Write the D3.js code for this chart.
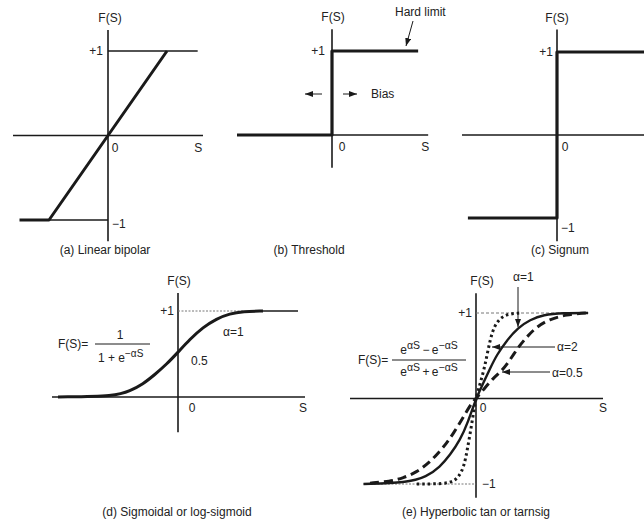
<!DOCTYPE html>
<html>
<head>
<meta charset="utf-8">
<script src="https://cdn.jsdelivr.net/npm/d3@7"></script>
<style>
  body { margin: 0; background: #fff; }
  svg text { font-family: "Liberation Sans", Arial, sans-serif; font-size: 12px; fill: #222; }
</style>
</head>
<body>
<svg id="chart" width="644" height="525"></svg>
<script>
// --- Data: curves as [S, F(S)] pairs ---
const captions = ["(a) Linear bipolar", "(b) Threshold", "(c) Signum",
                  "(d) Sigmoidal or log-sigmoid", "(e) Hyperbolic tan or tarnsig"];
const alphaLabels = ["α=1", "α=2", "α=0.5"];

const bipolarCurve = [[-1.5, -1], [-1, -1], [1, 1]];
const bipolarGuides = [[[0, 1], [1.52, 1]], [[-1, -1], [0, -1]]];

const thresholdCurve = [[-1.61, 0], [0, 0], [0, 1], [1.46, 1]];

const signumCurve = [[-1.51, -1], [0, -1], [0, 1], [1.5, 1]];

const sigmoidCurve = [[-4.8, 0], [-2.46, 0.01], [-1.93, 0.07], [-1.4, 0.15], [-0.93, 0.26],
  [-0.46, 0.38], [0, 0.52], [0.47, 0.67], [1.0, 0.81], [1.54, 0.91],
  [2.07, 0.97], [2.6, 0.995], [3.4, 1]];
const sigmoidTail = [[3.4, 1], [4.8, 1]];
const sigmoidTop = [[0, 1], [2.6, 1]];

const tanhAlpha1 = [[-4.5, -1], [-2.77, -0.985], [-1.97, -0.915], [-1.44, -0.8], [-1.04, -0.66],
  [-0.64, -0.49], [-0.31, -0.27], [0, 0], [0.29, 0.18], [0.56, 0.35], [0.83, 0.51],
  [1.23, 0.68], [1.69, 0.83], [2.16, 0.92], [2.69, 0.98], [3.49, 1], [4.48, 1]];
const tanhAlpha2 = [[-2.37, -1], [-1.71, -1], [-1.04, -0.99], [-0.71, -0.93], [-0.48, -0.8],
  [-0.35, -0.6], [-0.21, -0.37], [-0.08, -0.13], [0, 0], [0.09, 0.1], [0.29, 0.3],
  [0.43, 0.49], [0.56, 0.68], [0.72, 0.84], [0.96, 0.94], [1.29, 0.99], [1.76, 1]];
const tanhAlphaHalf = [[-4.24, -0.99], [-3.44, -0.97], [-2.91, -0.93], [-2.37, -0.86], [-1.91, -0.76],
  [-1.51, -0.64], [-1.17, -0.52], [-0.91, -0.41], [-0.57, -0.25], [-0.24, -0.08], [0, 0],
  [0.29, 0.1], [0.69, 0.24], [1.03, 0.32], [1.36, 0.45], [1.69, 0.6], [2.03, 0.72],
  [2.43, 0.84], [2.96, 0.93], [3.63, 0.98], [4.29, 1], [4.49, 1]];
const tanhTop = [[0, 1], [4.5, 1]];
const tanhBottom = [[-4.5, -1], [0, -1]];

// --- Setup ---
const svg = d3.select("#chart");
const ink = "#1a1a1a";

svg.append("defs").append("marker")
    .attr("id", "head")
    .attr("markerUnits", "userSpaceOnUse")
    .attr("markerWidth", 8).attr("markerHeight", 6)
    .attr("refX", 8).attr("refY", 3)
    .attr("orient", "auto")
    .append("path")
    .attr("d", "M0,0 L8,3 L0,6 z")
    .attr("fill", ink);

// origin in px, px per unit, and axis extents in data units
function makePanel(p) {
    const x = d3.scaleLinear().domain([0, 1]).range([p.ox, p.ox + p.ux]);
    const y = d3.scaleLinear().domain([0, 1]).range([p.oy, p.oy - p.uy]);
    const g = svg.append("g");
    g.append("line")
        .attr("x1", x(p.sx[0])).attr("x2", x(p.sx[1]))
        .attr("y1", y(0)).attr("y2", y(0))
        .attr("stroke", ink).attr("stroke-width", 1.6);
    g.append("line")
        .attr("x1", x(0)).attr("x2", x(0))
        .attr("y1", y(p.fy[0])).attr("y2", y(p.fy[1]))
        .attr("stroke", ink).attr("stroke-width", 1.6);
    g.append("text")
        .attr("x", x(0) + (p.fsDx || 0)).attr("y", y(p.fy[1]) - 8)
        .attr("text-anchor", "middle")
        .text("F(S)");
    return { g, x, y };
}

function drawLine(panel, pts, width, dash, curve) {
    const line = d3.line()
        .x(d => panel.x(d[0]))
        .y(d => panel.y(d[1]))
        .curve(curve || d3.curveLinear);
    return panel.g.append("path")
        .attr("d", line(pts))
        .attr("fill", "none")
        .attr("stroke", ink)
        .attr("stroke-width", width)
        .attr("stroke-dasharray", dash || null)
        .attr("stroke-linejoin", "round");
}

function label(panel, sx, fy, txt, anchor, dx, dy) {
    return panel.g.append("text")
        .attr("x", panel.x(sx) + (dx || 0))
        .attr("y", panel.y(fy) + (dy || 0))
        .attr("text-anchor", anchor || "start")
        .text(txt);
}

function arrow(x1, y1, x2, y2) {
    svg.append("line")
        .attr("x1", x1).attr("y1", y1).attr("x2", x2).attr("y2", y2)
        .attr("stroke", ink).attr("stroke-width", 1)
        .attr("marker-end", "url(#head)");
}

// --- (a) Linear bipolar ---
const pa = makePanel({ ox: 108, oy: 135.5, ux: 59, uy: 84.5, sx: [-1.61, 1.61], fy: [-1.25, 1.25], fsDx: 2 });
bipolarGuides.forEach(g => drawLine(pa, g, 1.4));
drawLine(pa, bipolarCurve, 3);
label(pa, 0, 1, "+1", "end", -5, 4);
label(pa, 0, 0, "0", "middle", 7, 16);
label(pa, 1.53, 0, "S", "middle", 0, 16);
label(pa, 0, -1, "−1", "start", 4, 8);

// --- (b) Threshold ---
const pb = makePanel({ ox: 332, oy: 135, ux: 59, uy: 84, sx: [-1.61, 1.63], fy: [-0.39, 1.26], fsDx: 1 });
drawLine(pb, thresholdCurve, 3.2);
label(pb, 0, 1, "+1", "end", -7, 4);
label(pb, 0, 0, "0", "middle", 10, 16);
label(pb, 1.58, 0, "S", "middle", 0, 16);
label(pb, 0, 0.49, "Bias", "start", 39, 4);
arrow(322, 94, 305, 94);
arrow(343, 94, 357, 94);
svg.append("text").attr("x", 395).attr("y", 16).text("Hard limit");
arrow(413, 21, 406, 46);

// --- (c) Signum ---
const pc = makePanel({ ox: 557, oy: 135, ux: 59, uy: 83, sx: [-1.61, 1.5], fy: [-1.28, 1.27] });
drawLine(pc, signumCurve, 3.2);
label(pc, 0, 1, "+1", "end", -4, 4);
label(pc, 0, 0, "0", "middle", 8, 16);
label(pc, 0, -1, "−1", "start", 4, 14);

// --- (d) Sigmoid ---
const pd = makePanel({ ox: 178, oy: 397, ux: 25, uy: 86, sx: [-5.04, 5.08], fy: [-0.41, 1.21], fsDx: 1 });
drawLine(pd, sigmoidTop, 1, "2,1.5").attr("stroke", "#777");
drawLine(pd, sigmoidTail, 1.6);
drawLine(pd, sigmoidCurve, 3, null, d3.curveBasis);
label(pd, 0, 1, "+1", "end", -4, 4);
label(pd, 0, 0, "0", "middle", 14, 15);
label(pd, 5.0, 0, "S", "middle", 0, 15);
label(pd, 0, 0.5, "0.5", "start", 13, 11);
label(pd, 0, 1, alphaLabels[0], "start", 45, 25);
// formula 1 / (1 + e^-aS)
svg.append("text").attr("x", 58).attr("y", 348).text("F(S)=");
svg.append("line").attr("x1", 95).attr("x2", 150).attr("y1", 344).attr("y2", 344)
    .attr("stroke", ink).attr("stroke-width", 1);
svg.append("text").attr("x", 120).attr("y", 339).attr("text-anchor", "middle").text("1");
const dd = svg.append("text").attr("x", 98).attr("y", 362);
dd.append("tspan").text("1 + e");
dd.append("tspan").attr("dy", -5).style("font-size", "10px").text("−αS");

// --- (e) Hyperbolic tangent ---
const pe = makePanel({ ox: 476, oy: 398.5, ux: 25, uy: 85.5, sx: [-5.04, 5.08], fy: [-1.16, 1.23], fsDx: 6 });
drawLine(pe, tanhTop, 1, "3,2").attr("stroke", "#777");
drawLine(pe, tanhBottom, 1, "2,1.5").attr("stroke", "#777");
drawLine(pe, tanhAlphaHalf, 3, "9,5", d3.curveBasis);
drawLine(pe, tanhAlpha2, 3, "2.5,3", d3.curveBasis);
drawLine(pe, tanhAlpha1, 2.4, null, d3.curveBasis);
label(pe, 0, 1, "+1", "end", -4, 4);
label(pe, 0, 0, "0", "middle", 7, 13);
label(pe, 5.08, 0, "S", "middle", 0, 13);
label(pe, 0, -1, "−1", "start", 6, 4);
svg.append("text").attr("x", 513).attr("y", 281).text(alphaLabels[0]);
arrow(518, 287, 518, 327);
svg.append("text").attr("x", 557).attr("y", 351).text(alphaLabels[1]);
arrow(555, 347, 492, 347);
svg.append("text").attr("x", 552).attr("y", 377).text(alphaLabels[2]);
arrow(550, 372, 502, 372);
// formula (e^aS - e^-aS) / (e^aS + e^-aS)
svg.append("text").attr("x", 358).attr("y", 364).text("F(S)=");
svg.append("line").attr("x1", 392).attr("x2", 466).attr("y1", 360).attr("y2", 360)
    .attr("stroke", ink).attr("stroke-width", 1);
[["−", 354], ["+", 376]].forEach(([op, yy]) => {
    const t = svg.append("text").attr("x", 429).attr("y", yy).attr("text-anchor", "middle");
    t.append("tspan").text("e");
    t.append("tspan").attr("dy", -5).style("font-size", "10.5px").text("αS");
    t.append("tspan").attr("dy", 5).text("\u2009" + op + "\u2009e");
    t.append("tspan").attr("dy", -5).style("font-size", "10.5px").text("−αS");
});

// --- Captions ---
const capPos = [[105, 254], [309, 254], [560, 254], [177, 516], [476, 516]];
captions.forEach((c, i) => {
    svg.append("text")
        .attr("x", capPos[i][0]).attr("y", capPos[i][1])
        .attr("text-anchor", "middle")
        .text(c);
});
</script>
</body>
</html>
